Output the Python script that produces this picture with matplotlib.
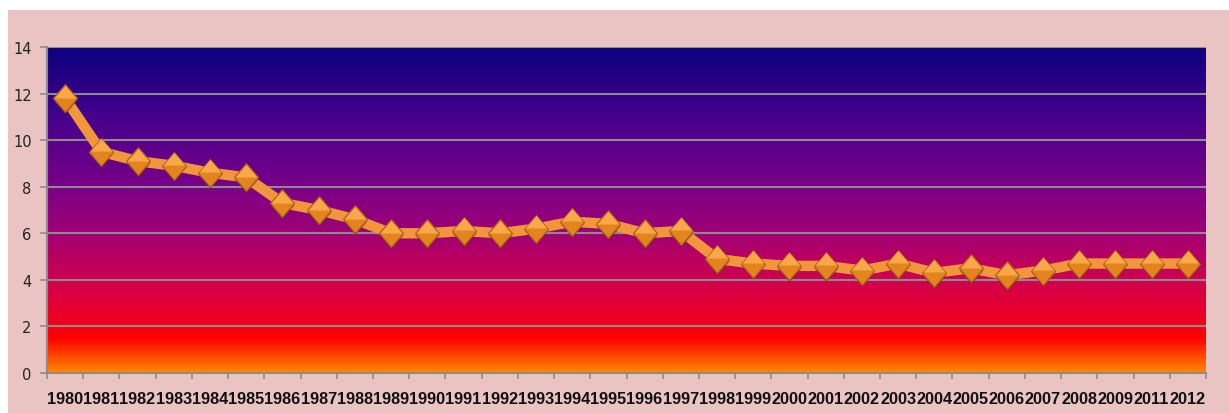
import numpy as np
import matplotlib.pyplot as plt
from matplotlib.colors import to_rgb

# years on the category axis (no 2010 in the source)
years = [str(y) for y in range(1980, 2010)] + ["2011", "2012"]
values = [11.8, 9.5, 9.1, 8.9, 8.6, 8.4, 7.3, 7.0, 6.6, 6.0,
          6.0, 6.1, 6.0, 6.2, 6.5, 6.4, 6.0, 6.1, 4.9, 4.7,
          4.6, 4.6, 4.4, 4.7, 4.3, 4.5, 4.2, 4.4, 4.7, 4.7,
          4.7, 4.7]
yticks = [0, 2, 4, 6, 8, 10, 12, 14]

fig = plt.figure(figsize=(12.29, 4.14), dpi=100, facecolor="white")
# pink card behind the chart
bg = fig.add_axes([8 / 1229, 0, 1 - 8 / 1229, 1 - 11 / 414], zorder=-1)
bg.set_facecolor("#eac3c3")
bg.set_xticks([])
bg.set_yticks([])
for s in bg.spines.values():
    s.set_visible(False)

ax = fig.add_axes([47 / 1229, 40 / 414, 1159 / 1229, 326 / 414])
n = len(years)
x = np.arange(n)

# vertical gradient of the plot area, stops given in data units
stops = [(0.0, "#ff8a00"), (1.5, "#ff0000"), (2.3, "#ef0022"),
         (4.0, "#cf0050"), (6.0, "#a00075"), (8.0, "#7a0088"),
         (11.0, "#46008c"), (14.0, "#0c0080")]
yy = np.linspace(0, 14, 400)
sv = [s[0] for s in stops]
cols = np.array([to_rgb(s[1]) for s in stops])
grad = np.stack([np.interp(yy, sv, cols[:, k]) for k in range(3)], axis=-1)
ax.imshow(grad[:, None, :], extent=[-0.5, n - 0.5, 0, 14], origin="lower",
          aspect="auto", zorder=0, interpolation="bilinear")

for t in yticks[1:]:
    ax.axhline(t, color="#8c8c8c", lw=1.5, zorder=1)

ax.plot(x, values, color="#f2963c", lw=7.5, solid_joinstyle="round", zorder=2)
diamond = [(0, 1.1), (0.95, 0), (0, -1.1), (-0.95, 0), (0, 1.1)]
top_half = [(0, 1.1), (0.95, 0), (-0.95, 0), (0, 1.1)]
ax.plot(x, [v - 0.07 for v in values], ls="none", marker=diamond, ms=20,
        mfc="#6a3a10", mec="none", alpha=0.55, zorder=3)
ax.plot(x, values, ls="none", marker=diamond, ms=20, mfc="#e3841f",
        mec="#a8621c", mew=0.8, zorder=4)
ax.plot(x, [v + 0.02 for v in values], ls="none", marker=top_half, ms=18,
        mfc="#f8a849", mec="none", zorder=5)

ax.set_xlim(-0.5, n - 0.5)
ax.set_ylim(0, 14)
ax.set_yticks(yticks)
ax.set_yticklabels([str(t) for t in yticks], fontsize=10.5, color="#222222")
ax.set_xticks(np.arange(-0.5, n, 1.0))
ax.set_xticklabels([])
ax.set_xticks(x, minor=True)
ax.set_xticklabels(years, minor=True, fontsize=11.7, fontweight="bold",
                   family="Liberation Sans", color="#111111")
ax.tick_params(axis="x", which="major", direction="out", length=4.5,
               color="#8c8c8c", width=1.2)
ax.tick_params(axis="x", which="minor", length=0, pad=13)
ax.tick_params(axis="y", direction="out", length=5, color="#8c8c8c",
               width=1.2, pad=6)
for s in ["top", "right"]:
    ax.spines[s].set_visible(False)
for s in ["left", "bottom"]:
    ax.spines[s].set_color("#8c8c8c")
    ax.spines[s].set_linewidth(1.5)

fig.savefig("out.png", dpi=100, facecolor="white")
